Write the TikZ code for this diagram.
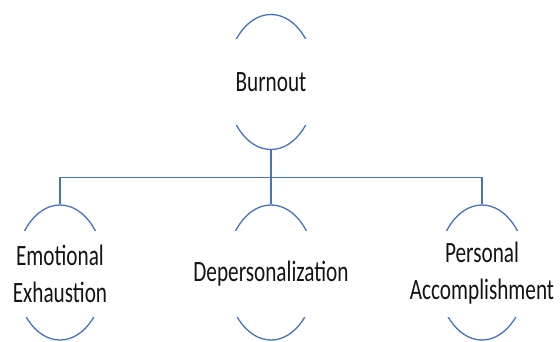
\documentclass[tikz,border=0pt]{standalone}
\usepackage{fontspec}
\setmainfont{Carlito}[FakeStretch=0.72]
\usetikzlibrary{shapes.geometric}
\definecolor{lineblue}{RGB}{68,114,196}
\definecolor{txt}{RGB}{20,20,20}
\tikzset{
  ell/.style={ellipse, draw=lineblue, line width=1.3pt, minimum width=90pt, minimum height=135pt, inner sep=0pt},
  lbl/.style={fill=white, text=txt, inner sep=0pt, minimum width=104pt, minimum height=86pt, align=center,
    font=\fontsize{29.5pt}{37pt}\selectfont},
  conn/.style={draw=lineblue, line width=1.3pt}
}
\begin{document}
\begin{tikzpicture}[x=1pt,y=-1pt]
\useasboundingbox (0,0) rectangle (560,341);
\node[ell] (b) at (271,82) {};
\node[lbl] (bt) at (271,82) {Burnout};
\node[ell] (e) at (60,272.5) {};
\node[lbl] (et) at (60,273.5) {Emotional\\Exhaustion};
\node[ell] (d) at (271,272.5) {};
\node[lbl] (dt) at (271,273.5) {Depersonalization};
\node[ell] (p) at (482,272.5) {};
\node[lbl, minimum width=150pt] (pt) at (482,273.5) {Personal\\Accomplishment};
\coordinate (j) at (271,177.5);
\draw[conn] (b.south) -- (j);
\draw[conn] (j) -| (e.north);
\draw[conn] (j) -| (p.north);
\draw[conn] (j) -- (d.north);
\end{tikzpicture}
\end{document}
